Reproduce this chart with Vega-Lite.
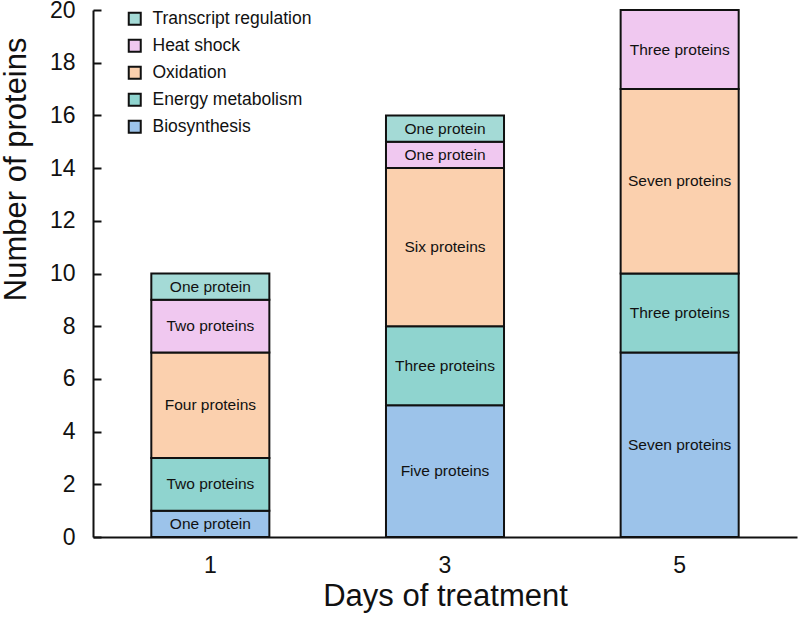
{
  "$schema": "https://vega.github.io/schema/vega-lite/v6.json",
  "width": 704,
  "height": 527,
  "autosize": {"type": "none"},
  "padding": {"left": 93, "top": 10, "right": 3, "bottom": 88},
  "background": "white",
  "config": {
    "font": "Liberation Sans",
    "view": {"stroke": null}
  },
  "data": {
    "values": [
      {"day": "1", "category": "Biosynthesis", "count": 1, "label": "One protein", "ord": 1},
      {"day": "1", "category": "Energy metabolism", "count": 2, "label": "Two proteins", "ord": 2},
      {"day": "1", "category": "Oxidation", "count": 4, "label": "Four proteins", "ord": 3},
      {"day": "1", "category": "Heat shock", "count": 2, "label": "Two proteins", "ord": 4},
      {"day": "1", "category": "Transcript regulation", "count": 1, "label": "One protein", "ord": 5},
      {"day": "3", "category": "Biosynthesis", "count": 5, "label": "Five proteins", "ord": 1},
      {"day": "3", "category": "Energy metabolism", "count": 3, "label": "Three proteins", "ord": 2},
      {"day": "3", "category": "Oxidation", "count": 6, "label": "Six proteins", "ord": 3},
      {"day": "3", "category": "Heat shock", "count": 1, "label": "One protein", "ord": 4},
      {"day": "3", "category": "Transcript regulation", "count": 1, "label": "One protein", "ord": 5},
      {"day": "5", "category": "Biosynthesis", "count": 7, "label": "Seven proteins", "ord": 1},
      {"day": "5", "category": "Energy metabolism", "count": 3, "label": "Three proteins", "ord": 2},
      {"day": "5", "category": "Oxidation", "count": 7, "label": "Seven proteins", "ord": 3},
      {"day": "5", "category": "Heat shock", "count": 3, "label": "Three proteins", "ord": 4}
    ]
  },
  "transform": [
    {"stack": "count", "groupby": ["day"], "sort": [{"field": "ord", "order": "ascending"}], "as": ["y0", "y1"]},
    {"calculate": "(datum.y0 + datum.y1) / 2", "as": "ymid"}
  ],
  "encoding": {
    "x": {
      "field": "day",
      "type": "ordinal",
      "scale": {"paddingInner": 0.497, "paddingOuter": 0.2485},
      "axis": {
        "title": "Days of treatment",
        "titleFontSize": 31,
        "titleFontWeight": "normal",
        "titleColor": "#111",
        "titlePadding": 4,
        "labelAngle": 0,
        "labelFontSize": 23,
        "labelColor": "#111",
        "labelPadding": 17,
        "ticks": false,
        "domainColor": "#111",
        "domainWidth": 2
      }
    }
  },
  "layer": [
    {
      "mark": {"type": "bar", "stroke": "#111", "strokeWidth": 2},
      "encoding": {
        "y": {
          "field": "y0",
          "type": "quantitative",
          "scale": {"domain": [0, 20], "nice": false},
          "axis": {
            "title": "Number of proteins",
            "titleFontSize": 31,
            "titleFontWeight": "normal",
            "titleColor": "#111",
            "titleAngle": -90,
            "titleAnchor": null,
            "titleAlign": "right",
            "titleBaseline": "middle",
            "titleX": -77,
            "titleY": 27,
            "values": [0, 2, 4, 6, 8, 10, 12, 14, 16, 18, 20],
            "labelFontSize": 23,
            "labelColor": "#111",
            "labelPadding": 26,
            "tickSize": -8,
            "tickColor": "#111",
            "tickWidth": 2,
            "domainColor": "#111",
            "domainWidth": 2,
            "grid": false
          }
        },
        "y2": {"field": "y1"},
        "color": {
          "field": "category",
          "type": "nominal",
          "scale": {
            "domain": ["Transcript regulation", "Heat shock", "Oxidation", "Energy metabolism", "Biosynthesis"],
            "range": ["#A4DAD6", "#F0C8F0", "#FBD0AE", "#8FD4CF", "#9CC3EA"]
          },
          "legend": {
            "title": null,
            "orient": "none",
            "legendX": 33,
            "legendY": 0,
            "padding": 0,
            "symbolType": "square",
            "symbolSize": 144,
            "symbolStrokeColor": "#111",
            "symbolStrokeWidth": 2,
            "labelFontSize": 17.5,
            "labelColor": "#111",
            "labelOffset": 9,
            "rowPadding": 6
          }
        }
      }
    },
    {
      "mark": {"type": "text", "fontSize": 15.5, "color": "#111", "baseline": "middle", "align": "center"},
      "encoding": {
        "y": {"field": "ymid", "type": "quantitative"},
        "text": {"field": "label"}
      }
    }
  ]
}
